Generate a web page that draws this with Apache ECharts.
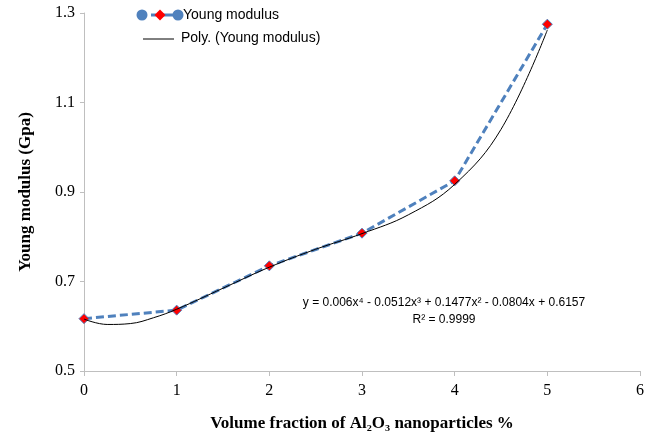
<!DOCTYPE html>
<html><head><meta charset="utf-8">
<script src="https://cdn.jsdelivr.net/npm/echarts@6/dist/echarts.min.js"></script>
<style>html,body{margin:0;padding:0;background:#fff}#c{width:656px;height:439px}</style>
</head><body><div id="c"></div>
<script>
const fractions = [0, 1, 2, 3, 4, 5];
const youngModulus = [0.617, 0.636, 0.735, 0.808, 0.925, 1.275];
const trendX = [0, 0.25, 0.5, 0.75, 1, 1.5, 2, 2.5, 3, 3.5, 4, 4.5, 5];
const trendY = [0.616, 0.604, 0.606, 0.619, 0.638, 0.685, 0.732, 0.772, 0.807, 0.849, 0.917, 1.04, 1.262];
const xTicks = [0, 1, 2, 3, 4, 5, 6];
const yTicks = [0.5, 0.7, 0.9, 1.1, 1.3];
const equationText = 'y = 0.006x\u2074 - 0.0512x\u00b3 + 0.1477x\u00b2 - 0.0804x + 0.6157';
const r2Text = 'R\u00b2 = 0.9999';

const chart = echarts.init(document.getElementById('c'));
const serif = '"Liberation Serif","Times New Roman",serif';
const sans = '"Liberation Sans",Arial,sans-serif';
const blue = '#4F81BD';
chart.setOption({
  animation: false,
  grid: {left: 84, right: 16, top: 13, bottom: 68},
  xAxis: {
    type: 'value', min: xTicks[0], max: xTicks[xTicks.length-1], interval: 1,
    axisLine: {lineStyle: {color: '#bfbfbf', width: 1}},
    axisTick: {show: true, length: 5, lineStyle: {color: '#bfbfbf'}},
    splitLine: {show: false},
    axisLabel: {fontFamily: serif, fontSize: 16, color: '#000', margin: 12},
    name: 'Volume fraction of Al\u2082O\u2083 nanoparticles %',
    nameLocation: 'middle', nameGap: 44,
    nameTextStyle: {fontFamily: serif, fontSize: 17, fontWeight: 'bold', color: '#000'}
  },
  yAxis: {
    type: 'value', min: yTicks[0], max: yTicks[yTicks.length-1], interval: 0.2,
    axisLine: {show: true, lineStyle: {color: '#bfbfbf', width: 1}},
    axisTick: {show: true, length: 4, lineStyle: {color: '#bfbfbf'}},
    splitLine: {show: false},
    axisLabel: {fontFamily: serif, fontSize: 16, color: '#000', margin: 9, formatter: v => v.toFixed(1)},
    name: 'Young modulus (Gpa)',
    nameLocation: 'middle', nameGap: 50,
    nameTextStyle: {fontFamily: serif, fontSize: 17, fontWeight: 'bold', color: '#000'}
  },
  series: [
    {
      type: 'line', name: 'Young modulus', z: 2,
      data: fractions.map((x, i) => [x, youngModulus[i]]),
      lineStyle: {color: blue, width: 3, type: [8, 4]},
      symbol: 'diamond', symbolSize: 10,
      itemStyle: {color: '#ff0000', borderColor: blue, borderWidth: 1}
    },
    {
      type: 'line', name: 'Poly. (Young modulus)', z: 3,
      data: trendX.map((x, i) => [x, trendY[i]]),
      smooth: 0.4, showSymbol: false, symbol: 'none',
      lineStyle: {color: '#000', width: 1}
    }
  ],
  graphic: [
    {type: 'line', shape: {x1: 142, y1: 15, x2: 160, y2: 15}, style: {stroke: blue, lineWidth: 3, lineDash: [5, 4]}},
    {type: 'line', shape: {x1: 160, y1: 15, x2: 178, y2: 15}, style: {stroke: blue, lineWidth: 3}},
    {type: 'circle', shape: {cx: 142, cy: 15, r: 5.5}, style: {fill: blue}},
    {type: 'circle', shape: {cx: 178, cy: 15, r: 5.5}, style: {fill: blue}},
    {type: 'polygon', shape: {points: [[160, 9.5], [165.5, 15], [160, 20.5], [154.5, 15]]}, style: {fill: '#ff0000'}},
    {type: 'text', left: 183, top: 8, style: {text: 'Young modulus', font: '14px ' + sans, fill: '#000'}},
    {type: 'line', shape: {x1: 143, y1: 39, x2: 174, y2: 39}, style: {stroke: '#000', lineWidth: 1}},
    {type: 'text', left: 181, top: 31, style: {text: 'Poly. (Young modulus)', font: '14px ' + sans, fill: '#000'}},
    {type: 'text', x: 444, y: 303, style: {text: equationText, font: '12px ' + sans, fill: '#000', align: 'center', verticalAlign: 'middle'}},
    {type: 'text', x: 444, y: 320, style: {text: r2Text, font: '12px ' + sans, fill: '#000', align: 'center', verticalAlign: 'middle'}}
  ]
});
</script></body></html>
